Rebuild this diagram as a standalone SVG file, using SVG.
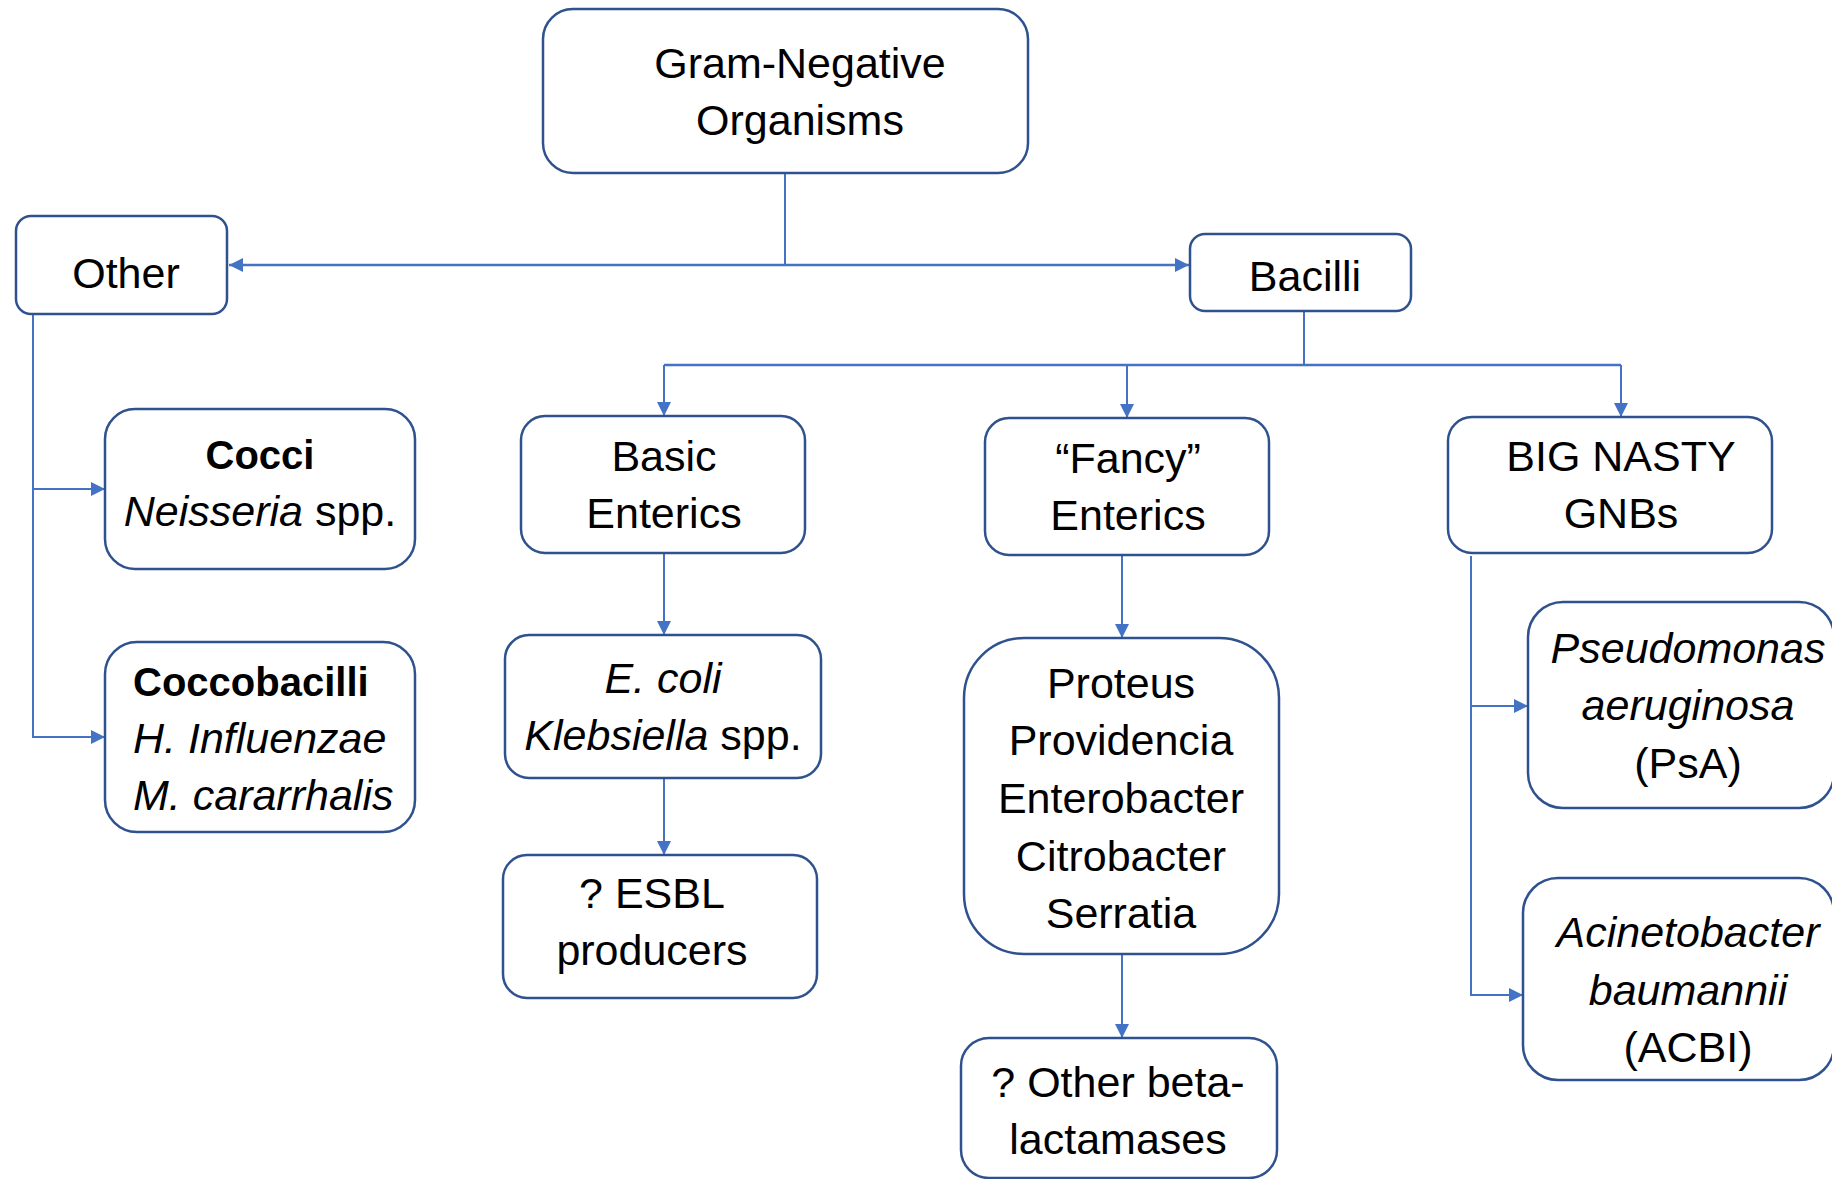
<svg xmlns="http://www.w3.org/2000/svg" width="1832" height="1179" viewBox="0 0 1832 1179">
  <style>
    .box { fill: #ffffff; stroke: #2F528F; stroke-width: 2.5; }
    .lbl { font-family: "Liberation Sans", Arial, sans-serif; font-size: 43px; fill: #000000; text-anchor: middle; }
    .left { text-anchor: start; }
    .b { font-weight: bold; font-size: 40px; }
    .i { font-style: italic; }
    .wire { fill: none; stroke: #4472C4; stroke-width: 2; }
    .wire-main { stroke-width: 2.6; }
  </style>
  <defs>
    <marker id="arrow" markerUnits="userSpaceOnUse" markerWidth="14" markerHeight="14" refX="14" refY="7" orient="auto">
      <path d="M0,0 L14,7 L0,14 z" fill="#4472C4"/>
    </marker>
  </defs>
  <rect width="1832" height="1179" fill="#ffffff"/>

  <!-- connectors -->
  <g id="connectors">
    <path class="wire" d="M785,173 V265"/>
    <path class="wire wire-main" d="M785,265 H229" marker-end="url(#arrow)"/>
    <path class="wire wire-main" d="M785,265 H1189" marker-end="url(#arrow)"/>

    <path class="wire" d="M1304,311 V365"/>
    <path class="wire wire-main" d="M664,365 H1621"/>
    <path class="wire" d="M664,365 V416" marker-end="url(#arrow)"/>
    <path class="wire" d="M1127,365 V418" marker-end="url(#arrow)"/>
    <path class="wire" d="M1621,365 V417" marker-end="url(#arrow)"/>

    <path class="wire" d="M664,553 V635" marker-end="url(#arrow)"/>
    <path class="wire" d="M664,778 V855" marker-end="url(#arrow)"/>

    <path class="wire" d="M1122,555 V638" marker-end="url(#arrow)"/>
    <path class="wire" d="M1122,954 V1038" marker-end="url(#arrow)"/>

    <path class="wire" d="M33,314 V737 H105" marker-end="url(#arrow)"/>
    <path class="wire" d="M33,489 H105" marker-end="url(#arrow)"/>

    <path class="wire" d="M1471,556 V995 H1523" marker-end="url(#arrow)"/>
    <path class="wire" d="M1471,706 H1528" marker-end="url(#arrow)"/>
  </g>

  <g id="gram-negative">
    <rect class="box" x="543" y="9" width="485" height="164" rx="30"/>
    <text class="lbl" x="800" y="78">Gram-Negative</text>
    <text class="lbl" x="800" y="135">Organisms</text>
  </g>

  <g id="other">
    <rect class="box" x="16" y="216" width="211" height="98" rx="15"/>
    <text class="lbl" x="126" y="288">Other</text>
  </g>

  <g id="bacilli">
    <rect class="box" x="1190" y="234" width="221" height="77" rx="15"/>
    <text class="lbl" x="1305" y="291">Bacilli</text>
  </g>

  <g id="cocci">
    <rect class="box" x="105" y="409" width="310" height="160" rx="30"/>
    <text class="lbl b" x="260" y="469">Cocci</text>
    <text class="lbl" x="260" y="526"><tspan class="i">Neisseria</tspan> spp.</text>
  </g>

  <g id="coccobacilli">
    <rect class="box" x="105" y="642" width="310" height="190" rx="32"/>
    <text class="lbl left b" x="133" y="696">Coccobacilli</text>
    <text class="lbl left i" x="133" y="753">H. Influenzae</text>
    <text class="lbl left i" x="133" y="810">M. cararrhalis</text>
  </g>

  <g id="basic-enterics">
    <rect class="box" x="521" y="416" width="284" height="137" rx="24"/>
    <text class="lbl" x="664" y="471">Basic</text>
    <text class="lbl" x="664" y="528">Enterics</text>
  </g>

  <g id="ecoli-klebsiella">
    <rect class="box" x="505" y="635" width="316" height="143" rx="24"/>
    <text class="lbl i" x="663" y="693">E. coli</text>
    <text class="lbl" x="663" y="750"><tspan class="i">Klebsiella</tspan> spp.</text>
  </g>

  <g id="esbl">
    <rect class="box" x="503" y="855" width="314" height="143" rx="24"/>
    <text class="lbl" x="652" y="908">? ESBL</text>
    <text class="lbl" x="652" y="965">producers</text>
  </g>

  <g id="fancy-enterics">
    <rect class="box" x="985" y="418" width="284" height="137" rx="24"/>
    <text class="lbl" x="1128" y="473">“Fancy”</text>
    <text class="lbl" x="1128" y="530">Enterics</text>
  </g>

  <g id="proteus-group">
    <rect class="box" x="964" y="638" width="315" height="316" rx="60"/>
    <text class="lbl" x="1121" y="698">Proteus</text>
    <text class="lbl" x="1121" y="755">Providencia</text>
    <text class="lbl" x="1121" y="813">Enterobacter</text>
    <text class="lbl" x="1121" y="871">Citrobacter</text>
    <text class="lbl" x="1121" y="928">Serratia</text>
  </g>

  <g id="other-beta-lactamases">
    <rect class="box" x="961" y="1038" width="316" height="140" rx="28"/>
    <text class="lbl" x="1118" y="1097">? Other beta-</text>
    <text class="lbl" x="1118" y="1154">lactamases</text>
  </g>

  <g id="big-nasty">
    <rect class="box" x="1448" y="417" width="324" height="136" rx="24"/>
    <text class="lbl" x="1621" y="471">BIG NASTY</text>
    <text class="lbl" x="1621" y="528">GNBs</text>
  </g>

  <g id="pseudomonas">
    <rect class="box" x="1528" y="602" width="306" height="206" rx="35"/>
    <text class="lbl i" x="1688" y="663">Pseudomonas</text>
    <text class="lbl i" x="1688" y="720">aeruginosa</text>
    <text class="lbl" x="1688" y="778">(PsA)</text>
  </g>

  <g id="acinetobacter">
    <rect class="box" x="1523" y="878" width="311" height="202" rx="35"/>
    <text class="lbl i" x="1688" y="947">Acinetobacter</text>
    <text class="lbl i" x="1688" y="1005">baumannii</text>
    <text class="lbl" x="1688" y="1062">(ACBI)</text>
  </g>
</svg>
